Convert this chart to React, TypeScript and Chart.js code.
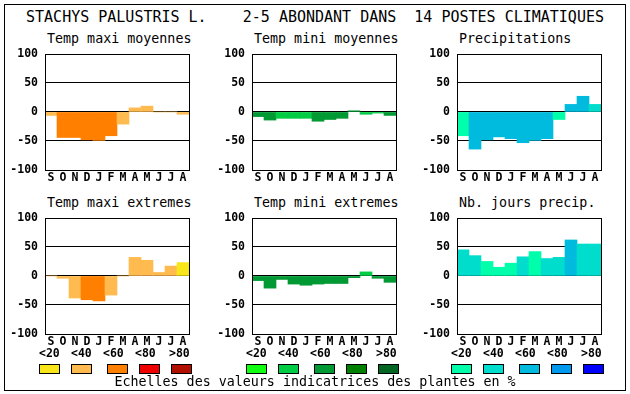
import React, { useEffect, useRef } from 'react';
import { Chart, registerables } from 'chart.js';

Chart.register(...registerables);

// ---------- data ----------
const months = ['S', 'O', 'N', 'D', 'J', 'F', 'M', 'A', 'M', 'J', 'J', 'A'];
const yTickValues = [-100, -50, 0, 50, 100];
const legendLabels = ['<20', '<40', '<60', '<80', '>80'];

const mainTitle = 'STACHYS PALUSTRIS L.    2-5 ABONDANT DANS  14 POSTES CLIMATIQUES';
const footerText = 'Echelles des valeurs indicatrices des plantes en %';

const panelTitles = [
  'Temp maxi moyennes',
  'Temp mini moyennes',
  'Precipitations',
  'Temp maxi extremes',
  'Temp mini extremes',
  'Nb. jours precip.',
];

// values (%) and colour class (0:<20 1:<40 2:<60 3:<80 4:>80)
const maxiMoyValues = [-6, -44, -44, -48, -49, -41, -21, 7, 10, 0, 0, -4];
const maxiMoyClasses = [1, 2, 2, 2, 2, 2, 1, 1, 1, 1, 1, 1];

const miniMoyValues = [-8, -14, -11, -11, -11, -16, -13, -11, 2, -4, -2, -6];
const miniMoyClasses = [2, 2, 1, 1, 1, 2, 2, 2, 2, 1, 1, 2];

const precipValues = [-41, -64, -48, -43, -46, -53, -49, -46, -13, 13, 27, 13];
const precipClasses = [0, 2, 2, 2, 2, 2, 2, 2, 0, 2, 2, 1];

const maxiExtValues = [0, -4, -38, -41, -43, -33, 0, 32, 27, 6, 17, 23];
const maxiExtClasses = [1, 1, 1, 2, 2, 1, 1, 1, 1, 1, 1, 0];

const miniExtValues = [-8, -21, -6, -14, -16, -14, -13, -13, -3, 7, -4, -11];
const miniExtClasses = [2, 2, 2, 2, 2, 2, 2, 2, 2, 1, 2, 2];

const nbJoursValues = [45, 35, 25, 15, 22, 33, 42, 30, 32, 62, 55, 55];
const nbJoursClasses = [1, 1, 0, 0, 0, 1, 0, 1, 1, 2, 1, 1];

const maxiPalette = ['#F8E51A', '#FFBB50', '#FF8000', '#EE0000', '#B01000'];
const miniPalette = ['#11FF11', '#00CC44', '#009933', '#008000', '#006622'];
const precipPalette = ['#00FFAA', '#00DDCC', '#00BBDD', '#0099EE', '#0000FF'];

// ---------- layout ----------
const colLefts = [45, 252, 457];
const rowTops = [50, 214];
const PLOT_W = 144;
const PLOT_H = 120;
const AXIS_W = 45;
const PAD_TOP = 10;
const PAD_RIGHT = 6;
const XAXIS_H = 22;

const MONO = '"DejaVu Sans Mono", "Liberation Mono", monospace';
const tickFont = { family: MONO, size: 11.5, weight: 'bold' as const };

const boxPlugin = {
  id: 'plotBox',
  afterDraw(chart: any) {
    const { ctx, chartArea } = chart;
    ctx.save();
    ctx.strokeStyle = '#000';
    ctx.lineWidth = 1;
    ctx.strokeRect(
      Math.round(chartArea.left) + 0.5,
      Math.round(chartArea.top) + 0.5,
      Math.round(chartArea.right - chartArea.left),
      Math.round(chartArea.bottom - chartArea.top)
    );
    ctx.restore();
  },
};

function Panel(props: { left: number; top: number; values: number[]; classes: number[]; palette: string[] }) {
  const ref = useRef<HTMLCanvasElement>(null);
  const { left, top, values, classes, palette } = props;
  useEffect(() => {
    const chart = new Chart(ref.current as HTMLCanvasElement, {
      type: 'bar',
      data: {
        labels: months,
        datasets: [
          {
            data: values,
            backgroundColor: classes.map((c) => palette[c]),
            borderWidth: 0,
            categoryPercentage: 1,
            barPercentage: 1,
          },
        ],
      },
      options: {
        animation: false,
        responsive: false,
        maintainAspectRatio: false,
        devicePixelRatio: 1,
        layout: { padding: { top: PAD_TOP, right: PAD_RIGHT, left: 0, bottom: 0 }, autoPadding: false },
        plugins: { legend: { display: false }, tooltip: { enabled: false }, title: { display: false } },
        scales: {
          x: {
            grid: { display: false, drawTicks: false },
            border: { display: false },
            ticks: { font: tickFont, color: '#000', padding: 1, maxRotation: 0, autoSkip: false },
            afterFit: (s: any) => {
              s.height = XAXIS_H;
            },
          },
          y: {
            min: -100,
            max: 100,
            afterBuildTicks: (s: any) => {
              s.ticks = yTickValues.map((v) => ({ value: v }));
            },
            grid: {
              color: (c: any) => (Math.abs(c.tick.value) === 100 ? 'rgba(0,0,0,0)' : '#000'),
              drawTicks: false,
              lineWidth: 1,
            },
            border: { display: false },
            ticks: { font: tickFont, color: '#000', padding: 7 },
            afterFit: (s: any) => {
              s.width = AXIS_W;
            },
            z: 1,
          },
        },
      } as any,
      plugins: [boxPlugin],
    });
    return () => chart.destroy();
  }, []);
  return (
    <canvas
      ref={ref}
      width={AXIS_W + PLOT_W + PAD_RIGHT}
      height={PAD_TOP + PLOT_H + XAXIS_H}
      style={{ position: 'absolute', left: left - AXIS_W, top: top - PAD_TOP }}
    />
  );
}

function Txt(props: { x: number; baseline: number; size: number; bold?: boolean; children: any; center?: boolean }) {
  const { x, baseline, size, bold, children, center } = props;
  const style: any = {
    position: 'absolute',
    top: baseline - 0.846 * size,
    fontFamily: MONO,
    fontSize: size,
    fontWeight: bold ? 'bold' : 'normal',
    lineHeight: 1,
    whiteSpace: 'pre',
    color: '#000',
  };
  if (center) {
    style.left = 0;
    style.width = 630;
    style.textAlign = 'center';
  } else {
    style.left = x;
  }
  return <div style={style}>{children}</div>;
}

export default function App() {
  const panelData = [
    { values: maxiMoyValues, classes: maxiMoyClasses, palette: maxiPalette },
    { values: miniMoyValues, classes: miniMoyClasses, palette: miniPalette },
    { values: precipValues, classes: precipClasses, palette: precipPalette },
    { values: maxiExtValues, classes: maxiExtClasses, palette: maxiPalette },
    { values: miniExtValues, classes: miniExtClasses, palette: miniPalette },
    { values: nbJoursValues, classes: nbJoursClasses, palette: precipPalette },
  ];
  const palettes = [maxiPalette, miniPalette, precipPalette];
  const labelOffsets = [0, 32, 64, 96, 130];
  const swatchOffsets = [0, 32, 68, 100, 132];

  return (
    <div style={{ position: 'absolute', left: 0, top: 0, width: 630, height: 394, background: '#fff', overflow: 'hidden' }}>
      <div
        style={{
          position: 'absolute',
          left: 4,
          top: 4,
          width: 622,
          height: 387,
          border: '1px solid #000',
          boxSizing: 'border-box',
        }}
      />
      <Txt x={0} baseline={23} size={15} center>
        {mainTitle}
      </Txt>
      {panelData.map((p, i) => {
        const col = i % 3;
        const row = Math.floor(i / 3);
        return (
          <React.Fragment key={i}>
            <Txt x={colLefts[col] + 2} baseline={rowTops[row] - 7} size={13.33}>
              {panelTitles[i]}
            </Txt>
            <Panel left={colLefts[col]} top={rowTops[row]} values={p.values} classes={p.classes} palette={p.palette} />
          </React.Fragment>
        );
      })}
      {palettes.map((pal, c) => (
        <React.Fragment key={'lg' + c}>
          {legendLabels.map((l, k) => (
            <Txt key={'l' + k} x={colLefts[c] - 6 + labelOffsets[k]} baseline={358} size={11.5} bold>
              {l}
            </Txt>
          ))}
          {pal.map((color, k) => (
            <div
              key={'s' + k}
              style={{
                position: 'absolute',
                left: colLefts[c] - 6 + swatchOffsets[k],
                top: 364,
                width: 21,
                height: 10,
                background: color,
                border: '1px solid #000',
                boxSizing: 'border-box',
              }}
            />
          ))}
        </React.Fragment>
      ))}
      <Txt x={0} baseline={386.7} size={13.33} center>
        {footerText}
      </Txt>
    </div>
  );
}
